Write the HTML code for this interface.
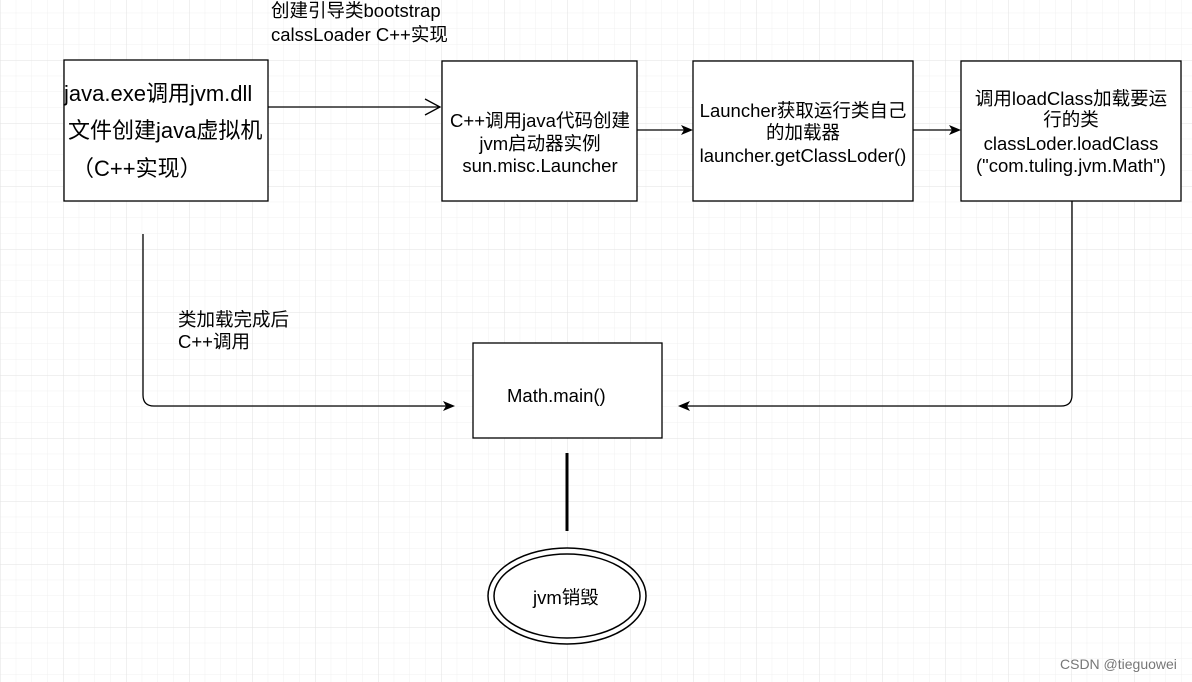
<!DOCTYPE html>
<html><head><meta charset="utf-8"><style>
html,body{margin:0;padding:0;background:#fff;}
svg{display:block;}
text{font-family:"Liberation Sans","Noto Sans CJK SC",sans-serif;fill:#000;}
</style></head><body>
<svg width="1192" height="682" viewBox="0 0 1192 682" xmlns="http://www.w3.org/2000/svg">
<defs>
<pattern id="minor" width="15.75" height="15.75" patternUnits="userSpaceOnUse" x="0" y="-3">
<path d="M0 0H15.75M0 0V15.75" stroke="#f0f0f0" stroke-width="1" fill="none"/>
</pattern>
<pattern id="major" width="63" height="63" patternUnits="userSpaceOnUse" x="0" y="-3">
<path d="M0 0H63M0 0V63" stroke="#e2e2e2" stroke-width="1" fill="none"/>
</pattern>
</defs>
<rect width="1192" height="682" fill="url(#minor)"/>
<rect width="1192" height="682" fill="url(#major)"/>

<g fill="#fff" stroke="#000" stroke-width="1.3">
<rect x="64" y="60" width="204" height="141"/>
<rect x="442" y="61" width="195" height="140"/>
<rect x="693" y="61" width="220" height="140"/>
<rect x="961" y="61" width="220" height="140"/>
<rect x="473" y="343" width="189" height="95"/>
</g>

<g stroke="#000" stroke-width="1.3" fill="none">
<path d="M268 107H440"/>
<path d="M425 99L440 107L425 115"/>
<path d="M637 130H685"/>
<path d="M913 130H953"/>
<path d="M1072 201V395Q1072 406 1061 406H686"/>
<path d="M143 234V395Q143 406 154 406H447"/>
</g>
<g fill="#000">
<path d="M693 130L681 125L684 130L681 135Z"/>
<path d="M961 130L949 125L952 130L949 135Z"/>
<path d="M455 406L443 401L446 406L443 411Z"/>
<path d="M678 406L690 401L687 406L690 411Z"/>
</g>
<path d="M567 453V531" stroke="#000" stroke-width="3"/>
<ellipse cx="567" cy="596" rx="79" ry="48" fill="#fff" stroke="#000" stroke-width="1.5"/>
<ellipse cx="567" cy="596" rx="73" ry="42" fill="none" stroke="#000" stroke-width="1.5"/>

<g font-size="22">
<text x="64" y="101">java.exe调用jvm.dll</text>
<text x="68" y="138">文件创建java虚拟机</text>
<text x="72" y="176">（C++实现）</text>
</g>
<g font-size="18.5" text-anchor="middle">
<text x="540" y="127">C++调用java代码创建</text>
<text x="540" y="150">jvm启动器实例</text>
<text x="540" y="172">sun.misc.Launcher</text>
<text x="803" y="117">Launcher获取运行类自己</text>
<text x="803" y="139">的加载器</text>
<text x="803" y="162">launcher.getClassLoder()</text>
<text x="1071" y="105">调用loadClass加载要运</text>
<text x="1071" y="126">行的类</text>
<text x="1071" y="150">classLoder.loadClass</text>
<text x="1071" y="172">("com.tuling.jvm.Math")</text>
</g>
<g font-size="18.5">
<text x="271" y="17">创建引导类bootstrap</text>
<text x="271" y="41">calssLoader C++实现</text>
<text x="178" y="326">类加载完成后</text>
<text x="178" y="348">C++调用</text>
<text x="507" y="402">Math.main()</text>
<text x="533" y="604">jvm销毁</text>
</g>
<text x="1060" y="669" font-size="14" style="fill:#777">CSDN @tieguowei</text>
</svg>
</body></html>
